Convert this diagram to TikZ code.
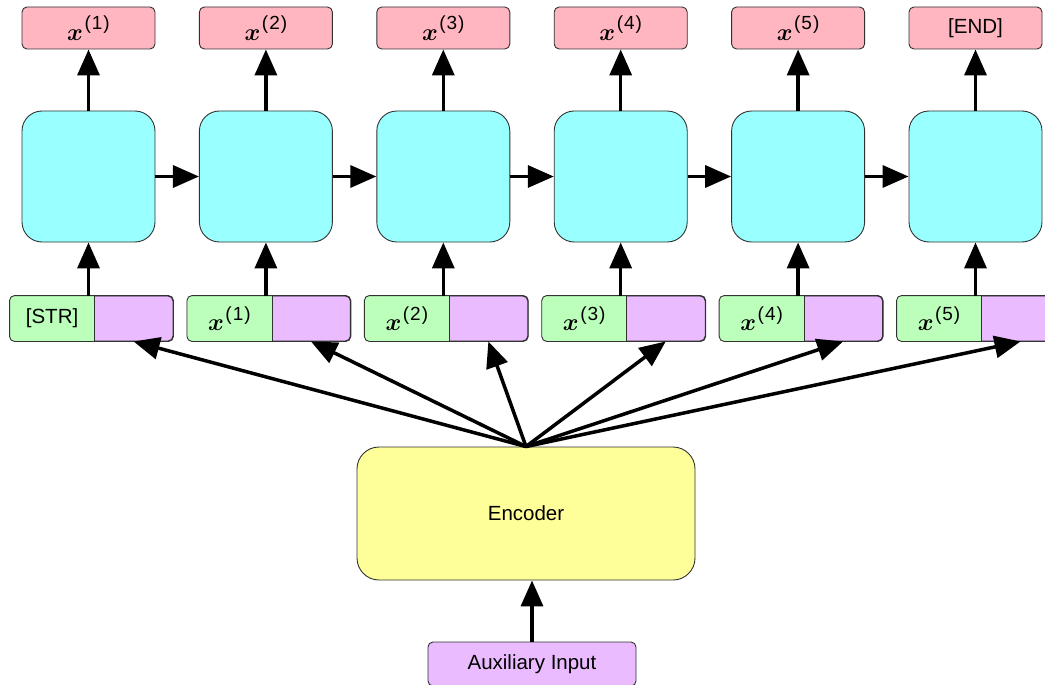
\documentclass[tikz,border=0pt]{standalone}
\usepackage{amsmath}
\usepackage{graphicx}
\usepackage{fontspec}
\newfontfamily\arialf{Liberation Sans}
\usetikzlibrary{arrows.meta}
\definecolor{pinkc}{RGB}{255,182,193}
\definecolor{cyanc}{RGB}{153,255,255}
\definecolor{greenc}{RGB}{187,255,187}
\definecolor{purplec}{RGB}{235,187,255}
\definecolor{yellowc}{RGB}{255,255,153}
\definecolor{edgec}{RGB}{50,50,50}
\tikzset{
  box/.style={draw=edgec, line width=0.9pt, inner sep=0pt, font=\arialf\fontsize{20.5}{24}\selectfont},
  outbox/.style={box, fill=pinkc, rounded corners=5pt, minimum width=133pt, minimum height=42pt},
  cellbox/.style={box, fill=cyanc, rounded corners=20pt, minimum width=133pt, minimum height=131pt},
  inbox/.style={box, fill=purplec, rounded corners=5pt, minimum width=163pt, minimum height=45pt},
  encbox/.style={box, fill=yellowc, rounded corners=22pt, minimum width=338pt, minimum height=133pt},
  auxbox/.style={box, fill=purplec, rounded corners=5pt, minimum width=208pt, minimum height=44pt},
  lab/.style={inner sep=0pt, font=\arialf\fontsize{20.5}{24}\selectfont},
  arr/.style={line width=3.5pt, -{Triangle[length=26pt,width=22pt]}},
}
\newcommand{\bx}[1]{\scalebox{2.4}{\fontsize{10}{12}\selectfont$\boldsymbol{x}$}\kern1.5pt\raisebox{10.5pt}{\fontsize{19}{21}\selectfont(\kern1pt#1\kern1pt)}}
\begin{document}
\begin{tikzpicture}[x=1pt,y=-1pt]
\useasboundingbox (0,0) rectangle (1045,685);
\foreach \i/\outl/\inl in {0/{\bx{1}}/{[STR]},1/{\bx{2}}/{\bx{1}},2/{\bx{3}}/{\bx{2}},3/{\bx{4}}/{\bx{3}},4/{\bx{5}}/{\bx{4}},5/{[END]}/{\bx{5}}}{
  \pgfmathsetmacro\cx{88.5+177.4*\i}
  \node[outbox] (o\i) at (\cx,28) {\outl};
  \node[cellbox] (h\i) at (\cx,176.5) {};
  \node[inbox] (in\i) at (\cx+3,318.5) {};
  \begin{scope}
    \clip[rounded corners=5pt] (in\i.south west) rectangle (in\i.north east);
    \fill[greenc] (in\i.south west) rectangle ([xshift=85pt]in\i.north west);
  \end{scope}
  \draw[edgec, line width=0.9pt] ([xshift=85pt]in\i.north west) -- ([xshift=85pt]in\i.south west);
  \draw[edgec, line width=0.9pt, rounded corners=5pt] (in\i.south west) rectangle (in\i.north east);
  \node[lab] (l\i) at ([xshift=42.5pt]in\i.west) {\inl};
  \coordinate (pp\i) at ([xshift=124pt]in\i.south west);
  \draw[arr] (h\i.north) -- (o\i.south);
  \draw[arr] (in\i.north -| h\i.south) -- (h\i.south);
}
\foreach \i/\j in {0/1,1/2,2/3,3/4,4/5}{
  \draw[arr] (h\i.east) -- (h\j.west);
}
\node[encbox] (enc) at (526,513.5) {Encoder};
\node[auxbox] (aux) at (532,664) {Auxiliary Input};
\draw[arr] (aux.north) -- (aux.north |- enc.south);
\foreach \i in {0,...,5}{
  \draw[arr] (enc.north) -- (pp\i);
}
\end{tikzpicture}
\end{document}
